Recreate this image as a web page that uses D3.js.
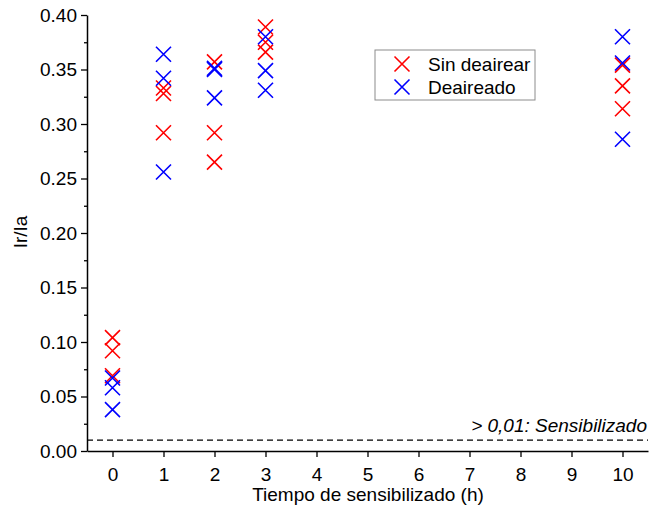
<!DOCTYPE html>
<html lang="es">
<head>
<meta charset="UTF-8">
<title>Ir/Ia vs tiempo de sensibilizado</title>
<script src="https://d3js.org/d3.v7.min.js"></script>
<style>
  body { margin: 0; background: #ffffff; }
  text { font-family: "Liberation Sans", Arial, sans-serif; }
</style>
</head>
<body>
<svg id="chart" width="649" height="506"></svg>
<script>

// values
const horas = [0, 1, 2, 3, 10];
const sinDeairear = [
  [0.104, 0.092, 0.069],
  [0.333, 0.328, 0.292],
  [0.357, 0.292, 0.265],
  [0.389, 0.375, 0.366],
  [0.354, 0.335, 0.314]
];
const deaireado = [
  [0.067, 0.058, 0.038],
  [0.364, 0.342, 0.256],
  [0.351, 0.350, 0.324],
  [0.380, 0.349, 0.331],
  [0.380, 0.356, 0.286]
];
const xTicks = [0, 1, 2, 3, 4, 5, 6, 7, 8, 9, 10];
const yTicks = [0, 0.05, 0.10, 0.15, 0.20, 0.25, 0.30, 0.35, 0.40];
const umbral = 0.01;

let series = [
  { name: 'Sin deairear', colour: '#ff0000', values: sinDeairear },
  { name: 'Deaireado', colour: '#0000ff', values: deaireado }
];

let fs = 19;
let svg = d3.select('#chart');

let x = d3.scaleLinear().domain([-0.5, 10.5]).range([87, 648]);
let y = d3.scaleLinear().domain([0, 0.40]).range([451, 15]);

// y axis with minor ticks
svg.append('g')
  .attr('transform', 'translate(87,0)')
  .call(d3.axisLeft(y).tickValues(d3.range(0.025, 0.4, 0.05)).tickSize(3).tickFormat(''))
  .call(g => g.select('.domain').remove())
  .call(g => g.selectAll('line').attr('stroke', '#000').attr('stroke-width', 1.3));

svg.append('g')
  .attr('transform', 'translate(87,0)')
  .call(d3.axisLeft(y).tickValues(yTicks).tickSize(6).tickSizeOuter(0).tickFormat(d3.format('.2f')))
  .call(g => g.select('.domain').attr('stroke-width', 1.5))
  .call(g => g.selectAll('line').attr('stroke-width', 1.3))
  .call(g => g.selectAll('text').attr('font-size', fs).attr('fill', '#000').attr('x', -10));

svg.append('g')
  .attr('transform', 'translate(0,451)')
  .call(d3.axisBottom(x).tickValues(xTicks).tickSize(6).tickSizeOuter(0))
  .call(g => g.select('.domain').attr('stroke-width', 1.5))
  .call(g => g.selectAll('line').attr('stroke-width', 1.3))
  .call(g => g.selectAll('text').attr('font-size', fs).attr('fill', '#000').attr('y', 13).attr('dy', '0.9em'));

// axis titles
svg.append('text')
  .attr('x', 368).attr('y', 501)
  .attr('text-anchor', 'middle')
  .attr('font-size', fs)
  .text('Tiempo de sensibilizado (h)');

svg.append('text')
  .attr('transform', 'translate(27,232) rotate(-90)')
  .attr('text-anchor', 'middle')
  .attr('font-size', fs)
  .text('Ir/Ia');

// threshold line
svg.append('line')
  .attr('x1', x(-0.5)).attr('x2', x(10.5))
  .attr('y1', y(umbral)).attr('y2', y(umbral))
  .attr('stroke', '#000')
  .attr('stroke-width', 1.3)
  .attr('stroke-dasharray', '6,4');

svg.append('text')
  .attr('x', 647).attr('y', 432)
  .attr('text-anchor', 'end')
  .attr('font-size', fs)
  .attr('font-style', 'italic')
  .text('> 0,01: Sensibilizado');

let crossPath = function(cx, cy, r) {
  return 'M' + (cx - r) + ',' + (cy - r) + 'L' + (cx + r) + ',' + (cy + r) +
         'M' + (cx - r) + ',' + (cy + r) + 'L' + (cx + r) + ',' + (cy - r);
};

series.forEach(function(s) {
  let pts = [];
  horas.forEach(function(h, i) {
    s.values[i].forEach(function(v) { pts.push({ h: h, v: v }); });
  });
  svg.append('g').selectAll('path')
    .data(pts)
    .enter().append('path')
    .attr('d', d => crossPath(x(d.h), y(d.v), 7.5))
    .attr('stroke', s.colour)
    .attr('stroke-width', 1.6)
    .attr('fill', 'none');
});

// legend
let legend = svg.append('g').attr('transform', 'translate(375,50)');
legend.append('rect')
  .attr('x', 0).attr('y', 0).attr('width', 160).attr('height', 50)
  .attr('fill', '#fff').attr('stroke', '#8c8c8c').attr('stroke-width', 1);

series.forEach(function(s, i) {
  let cy = 14 + i * 23;
  legend.append('path')
    .attr('d', crossPath(27, cy, 7.5))
    .attr('stroke', s.colour)
    .attr('stroke-width', 1.6)
    .attr('fill', 'none');
  legend.append('text')
    .attr('x', 53).attr('y', cy + 7)
    .attr('font-size', fs)
    .text(s.name);
});

</script>
</body>
</html>
